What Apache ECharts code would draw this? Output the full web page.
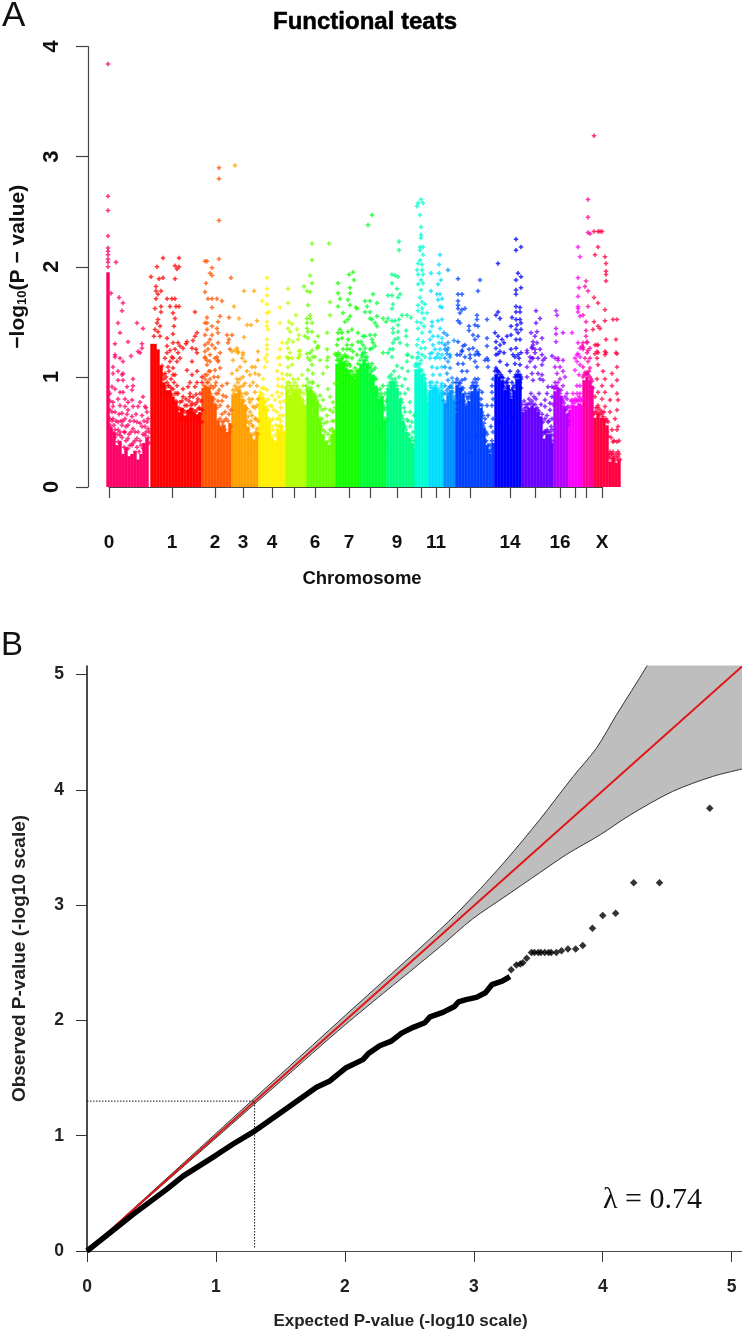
<!DOCTYPE html>
<html>
<head>
<meta charset="utf-8">
<title>Functional teats</title>
<style>
html, body { margin: 0; padding: 0; background: #fff; }
#main { width: 742px; height: 1331px; }
</style>
<script src="https://cdn.jsdelivr.net/npm/echarts@6/dist/echarts.min.js"></script>
</head>
<body>
<div id="main"></div>
<script>
// Panel A: axis ticks (positions along the genome, in plot units)
var chrTicks = [109, 172, 215, 243, 272, 294, 315, 349, 370, 397, 421, 436, 449, 470, 510, 535, 560, 575, 586, 602];
var chrTickLabels = ['0', '1', '2', '3', '4', '', '6', '7', '', '9', '', '11', '', '', '14', '', '16', '', '', 'X'];
var chrNames = ['0', '1', '2', '3', '4', '5', '6', '7', '8', '9', '10', '11', '12', '13', '14', '15', '16', '17', '18', 'X'];
var chrColors = ['#ff0066', '#ff0000', '#ff5500', '#ffa000', '#fff000', '#b4ff00', '#66ff00', '#14ff00', '#00ff33', '#00ff80',
    '#00ffd0', '#00ddff', '#0090ff', '#0040ff', '#0000ff', '#6600ff', '#b300ff', '#ff00ff', '#ff00a0', '#ff0040'];

// solid lower part of each chromosome: [position, height of the mass]
var core0 = [[108,1.95],[111,.55],[114,.5],[117,.38],[120,.42],[123,.3],[126,.36],[129,.28],[132,.3],[135,.33],[138,.25],[141,.3],[144,.4],[147,.45]];
var core1 = [[152,1.3],[155,1.3],[158,1.25],[161,1.1],[164,.95],[167,.88],[170,.88],[173,.82],[176,.78],[179,.68],[182,.72],[185,.65],[188,.7],[191,.72],[194,.68],[197,.66],[200,.68]];
var core2 = [[203,.9],[206,.92],[209,.9],[212,.82],[215,.75],[218,.6],[221,.55],[224,.56],[227,.5],[230,.58]];
var core3 = [[233,.84],[236,.85],[239,.88],[242,.8],[245,.75],[248,.55],[251,.48],[254,.42],[257,.5]];
var core4 = [[260,.84],[263,.82],[266,.74],[269,.6],[272,.45],[275,.4],[278,.52],[281,.56],[284,.5]];
var core5 = [[287,.88],[290,.84],[293,.86],[296,.88],[299,.84],[302,.78],[305,.74]];
var core6 = [[308,.88],[311,.88],[314,.84],[317,.78],[320,.6],[323,.48],[326,.42],[329,.38],[332,.48],[334,.52]];
var core7 = [[337,1.12],[340,1.13],[343,1.14],[346,1.08],[349,1.04],[352,1.0],[355,.98],[358,1.04]];
var core8 = [[361,1.12],[364,1.16],[367,1.12],[370,1.04],[373,1.02],[376,.92],[379,.8],[382,.82],[385,.6]];
var core9 = [[388,.9],[391,.96],[394,.96],[397,.9],[400,.8],[403,.6],[406,.5],[409,.45],[412,.4],[414,.36]];
var core10 = [[416,1.07],[419,1.07],[422,1.02],[425,.96],[427,.78]];
var core11 = [[430,.88],[433,.88],[436,.88],[439,.84],[442,.88]];
var core12 = [[445,.76],[448,.84],[451,.88],[454,.78]];
var core13 = [[457,.92],[460,.9],[463,.85],[466,.74],[469,.78],[472,.87],[475,.92],[478,.87],[481,.72],[484,.54],[487,.38],[490,.3],[493,.4]];
var core14 = [[496,1.02],[499,1.0],[502,.97],[505,.88],[508,.92],[511,.8],[514,.88],[517,.98],[520,.98]];
var core15 = [[523,.68],[526,.7],[529,.72],[532,.74],[535,.72],[538,.68],[541,.64],[544,.44],[547,.48],[550,.48],[552,.4]];
var core16 = [[555,.87],[558,.88],[561,.83],[564,.74],[567,.66]];
var core17 = [[570,.7],[573,.74],[576,.74],[579,.76],[581,.75]];
var core18 = [[584,.97],[587,1.0],[590,.97],[592,.92]];
var coreX = [[595,.63],[598,.67],[601,.63],[604,.62],[607,.56],[610,.23],[613,.27],[616,.22],[619,.25]];

// single markers above the mass: [position, -log10 P]
var chr0 = [[108,3.84],[108,2.64],[108,2.51],[108,2.28],[108,2.17],[108,2.14],[108,2.11],[108,2.07],[108,2.04],[108,2.0],[116,2.04],[111,1.76],[119,1.72],[123,1.67],[122,1.6],[118,1.49],[137,1.49],[143,1.44],[120,1.4],[128,1.32],[115,1.3],[142,1.3],[142,1.26],[138,1.23],[140,1.22],[131,1.19],[115,1.18],[115,1.2],[120,1.17],[123,1.14],[113,1.09],[113,1.03],[118,1.05],[122,1.02],[123,1.03],[118,.97],[123,.97],[133,.98],[127,.91],[133,.92],[132,.88],[112,.91],[115,.89],[110,.85],[120,.86],[123,.86],[118,.8],[125,.8],[132,.79],[128,.77],[143,.82],[140,.77],[145,.73],[138,.73],[113,.77],[113,.73],[120,.74],[125,.73],[133,.73],[115,.68],[122,.67],[128,.7],[142,.65],[147,.68],[113,.62],[125,.62],[132,.64],[137,.59],[118,.59],[147,.59],[110,.56],[122,.56],[128,.56],[142,.55],[115,.52],[125,.5],[133,.53],[148,.53],[138,.5],[120,.47],[145,.47],[128,.44],[137,.44],[132,.38],[118,.41]];
var chr1 = [[163,2.08],[179,2.08],[157,2.0],[175,2.01],[179,2.0],[177,1.98],[151,1.91],[163,1.9],[159,1.89],[175,1.89],[156,1.82],[156,1.78],[161,1.78],[158,1.75],[156,1.71],[167,1.71],[172,1.71],[175,1.71],[161,1.64],[155,1.62],[170,1.64],[176,1.64],[179,1.64],[161,1.59],[173,1.58],[195,1.59],[158,1.52],[175,1.53],[157,1.49],[160,1.46],[174,1.46],[155,1.43],[158,1.41],[173,1.39],[154,1.37],[160,1.37],[197,1.4],[195,1.37],[167,1.35],[193,1.33],[173,1.31],[178,1.31],[187,1.32],[186,1.3],[167,1.28],[180,1.28],[192,1.26],[183,1.26],[196,1.25],[170,1.24],[175,1.25],[167,1.22],[172,1.18],[178,1.22],[197,1.22],[180,1.17],[165,1.17],[173,1.17],[170,1.14],[177,1.14],[192,1.14],[168,1.09],[173,1.08],[187,1.06],[197,1.05],[192,1.02],[165,1.03],[173,1.02],[202,1.0],[190,.95],[197,.95],[202,.95],[188,.91],[195,.91],[168,.92],[173,.89],[183,.89],[190,.85],[200,.85],[183,.82],[190,.82],[177,.85],[180,.77],[185,.74],[192,.76],[197,.77],[200,.71],[178,.7],[188,.68],[195,.68],[198,.62],[202,.59]];
var chr2 = [[219,2.9],[219,2.8],[219,2.42],[219,2.07],[207,2.05],[205,2.05],[212,1.99],[210,1.94],[212,1.92],[231,1.9],[206,1.85],[205,1.77],[208,1.71],[212,1.71],[217,1.71],[222,1.69],[212,1.63],[207,1.54],[220,1.55],[229,1.54],[207,1.49],[205,1.49],[212,1.46],[218,1.5],[217,1.44],[207,1.43],[205,1.38],[212,1.38],[218,1.4],[210,1.34],[205,1.29],[208,1.31],[212,1.29],[218,1.31],[227,1.38],[232,1.38],[229,1.34],[228,1.31],[208,1.25],[205,1.23],[215,1.26],[220,1.22],[210,1.2],[217,1.18],[230,1.25],[205,1.18],[207,1.15],[218,1.15],[205,1.17],[210,1.14],[215,1.17],[207,1.11],[218,1.14],[210,1.05],[215,1.06],[220,1.08],[205,1.02],[210,.98],[218,1.0],[207,.95],[215,.92],[222,.92],[227,.94],[218,.85],[223,.83],[220,.74],[228,.73],[225,.68],[222,.59],[230,.5],[223,.56]];
var chr3 = [[235,2.92],[234,1.64],[244,1.78],[254,1.78],[239,1.53],[247,1.47],[251,1.47],[257,1.51],[244,1.36],[237,1.26],[232,1.23],[238,1.22],[243,1.22],[242,1.17],[235,1.24],[238,1.23],[243,1.2],[233,1.15],[245,1.14],[240,1.09],[237,1.06],[247,1.05],[252,1.09],[255,1.09],[258,1.23],[258,1.15],[232,1.03],[250,1.02],[255,1.03],[259,1.02],[237,.98],[245,.94],[253,.95],[250,.92],[257,.92],[240,.91],[255,.86],[247,.85],[250,.77],[253,.73],[247,.71],[257,.74],[250,.68],[255,.62],[252,.56],[257,.53],[250,.35]];
var chr4 = [[267,1.9],[267,1.8],[267,1.74],[262,1.69],[267,1.66],[267,1.58],[269,1.59],[280,1.63],[280,1.49],[267,1.5],[267,1.46],[268,1.43],[267,1.34],[267,1.29],[267,1.25],[267,1.2],[282,1.31],[280,1.25],[280,1.18],[265,1.17],[267,1.14],[265,1.09],[278,1.17],[280,1.11],[277,1.05],[282,1.03],[263,.98],[278,.98],[283,.98],[278,.92],[282,.91],[277,.86],[267,.88],[282,.85],[272,.83],[275,.79],[280,.77],[272,.73],[277,.68],[273,.62],[280,.65],[272,.55],[275,.47]];
var chr5 = [[288,1.8],[288,1.67],[296,1.56],[289,1.5],[292,1.48],[288,1.44],[290,1.41],[297,1.43],[299,1.38],[289,1.34],[287,1.31],[293,1.32],[288,1.26],[298,1.34],[290,1.22],[287,1.18],[299,1.23],[299,1.18],[289,1.17],[288,1.17],[292,1.17],[288,1.09],[292,1.11],[298,1.17],[300,1.24],[300,1.2],[287,1.02],[290,1.02],[293,.98],[298,.98],[302,1.02],[287,.95],[297,.92],[303,.92],[290,.92],[300,.88],[293,.88]];
var chr6 = [[312,2.21],[329,2.21],[312,2.06],[310,1.92],[312,1.85],[304,1.82],[307,1.78],[310,1.77],[308,1.65],[310,1.56],[307,1.53],[310,1.53],[307,1.49],[312,1.49],[307,1.44],[308,1.41],[312,1.41],[327,1.4],[305,1.37],[308,1.35],[318,1.37],[315,1.32],[317,1.26],[327,1.25],[310,1.22],[313,1.18],[318,1.28],[308,1.17],[330,1.68],[330,1.56],[307,1.21],[312,1.24],[318,1.27],[310,1.15],[315,1.18],[312,1.11],[320,1.15],[327,1.15],[335,1.21],[328,1.18],[308,1.06],[313,1.03],[327,1.09],[307,.98],[312,.95],[318,.92],[323,1.03],[328,.89],[335,.94],[330,.82],[320,.83],[323,.79],[317,.79],[333,.77],[325,.71],[320,.73],[330,.7],[322,.62],[333,.68],[327,.59],[320,.56],[332,.53],[323,.52],[328,.48]];
var chr7 = [[349,1.93],[353,1.95],[354,1.88],[338,1.85],[350,1.81],[350,1.76],[338,1.76],[340,1.71],[348,1.7],[338,1.64],[350,1.65],[357,1.62],[343,1.58],[356,1.63],[350,1.55],[348,1.52],[345,1.5],[340,1.43],[338,1.4],[342,1.4],[348,1.41],[352,1.43],[358,1.4],[338,1.34],[342,1.35],[348,1.34],[337,1.29],[347,1.29],[352,1.29],[358,1.32],[343,1.25],[347,1.25],[350,1.25],[338,1.22],[353,1.23],[336,1.2],[345,1.2],[357,1.2],[342,1.17],[348,1.18],[352,1.17],[340,1.13],[346,1.14],[350,1.1],[355,1.08],[358,1.05]];
var chr8 = [[372,2.47],[368,2.38],[373,1.75],[365,1.69],[370,1.69],[377,1.67],[367,1.64],[365,1.59],[370,1.59],[370,1.53],[377,1.55],[375,1.49],[372,1.52],[377,1.46],[363,1.37],[361,1.32],[365,1.37],[370,1.38],[375,1.38],[372,1.34],[373,1.31],[375,1.28],[363,1.29],[360,1.25],[365,1.26],[370,1.25],[365,1.22],[362,1.2],[372,1.26],[383,1.22],[383,1.53],[386,1.5],[370,1.09],[375,1.08],[380,.89],[383,.92],[385,.85],[378,.77],[382,.73],[377,.68],[383,.56],[380,.5],[385,.36]];
var chr9 = [[399,2.23],[399,2.15],[392,1.93],[395,1.92],[398,1.91],[392,1.85],[397,1.8],[388,1.74],[392,1.74],[400,1.75],[398,1.72],[393,1.66],[392,1.62],[388,1.53],[392,1.51],[395,1.51],[399,1.52],[402,1.56],[407,1.56],[411,1.54],[398,1.47],[393,1.44],[406,1.42],[398,1.41],[393,1.4],[406,1.37],[398,1.35],[395,1.34],[400,1.31],[393,1.31],[407,1.29],[390,1.25],[393,1.25],[388,1.22],[392,1.18],[407,1.2],[412,1.18],[408,1.2],[407,1.14],[402,1.08],[408,1.05],[405,.98],[408,.89],[402,.92],[405,.85],[410,.77],[402,.77],[405,.68],[410,.68],[407,.61],[412,.59],[403,.56],[408,.47],[413,.5],[407,.35]];
var chr10 = [[421,2.61],[418,2.58],[423,2.58],[417,2.55],[420,2.47],[421,2.36],[421,2.29],[421,2.26],[420,2.18],[423,2.18],[420,2.15],[423,2.11],[420,2.06],[418,2.03],[422,2.02],[417,1.97],[422,1.97],[418,1.93],[423,1.93],[421,1.88],[418,1.84],[423,1.85],[421,1.79],[420,1.72],[422,1.68],[418,1.65],[425,1.66],[422,1.62],[418,1.6],[422,1.58],[427,1.58],[424,1.53],[417,1.5],[421,1.49],[424,1.46],[418,1.44],[422,1.4],[418,1.34],[423,1.32],[417,1.29],[421,1.26],[425,1.26],[418,1.22],[422,1.2],[425,1.18],[417,1.17],[421,1.15],[418,1.18],[425,.98],[425,.89],[427,.8],[427,.73],[425,.65]];
var chr11 = [[440,2.11],[439,2.02],[431,1.94],[439,1.94],[441,1.88],[438,1.84],[431,1.78],[437,1.75],[440,1.75],[438,1.7],[442,1.71],[440,1.64],[442,1.63],[432,1.5],[432,1.46],[438,1.51],[442,1.52],[440,1.44],[430,1.41],[433,1.37],[430,1.34],[438,1.37],[442,1.35],[433,1.29],[439,1.31],[442,1.31],[435,1.25],[440,1.25],[432,1.22],[437,1.18],[442,1.2],[430,1.17],[430,1.21],[438,1.21],[435,1.17],[440,1.17],[432,1.09],[437,1.08],[442,1.09],[433,1.02],[440,1.02],[430,.95],[437,.95],[442,.94],[435,.89]];
var chr12 = [[448,1.97],[447,1.38],[444,1.4],[454,1.33],[448,1.31],[445,1.25],[448,1.26],[447,1.21],[450,1.18],[445,1.17],[445,1.29],[447,1.24],[450,1.2],[448,1.14],[445,1.09],[450,1.08],[447,1.03],[452,.99],[448,.97],[453,.95],[450,.91],[445,.92],[453,.86],[455,.79],[455,.73],[454,.62]];
var chr13 = [[458,1.89],[480,1.88],[478,1.78],[458,1.75],[462,1.75],[458,1.69],[458,1.65],[458,1.62],[462,1.61],[465,1.62],[460,1.58],[477,1.56],[487,1.52],[477,1.52],[458,1.51],[460,1.49],[475,1.47],[469,1.46],[478,1.46],[469,1.42],[473,1.38],[475,1.34],[478,1.37],[487,1.35],[463,1.28],[458,1.32],[462,1.23],[469,1.25],[473,1.26],[477,1.23],[487,1.28],[460,1.2],[465,1.18],[470,1.2],[475,1.2],[479,1.2],[487,1.17],[457,1.2],[462,1.24],[465,1.29],[458,1.12],[463,1.12],[478,1.21],[470,1.17],[475,1.14],[488,1.15],[485,1.15],[462,1.05],[467,1.05],[477,1.09],[488,1.09],[465,.98],[462,.97],[493,.98],[492,.92],[478,.98],[482,.86],[492,.86],[478,.8],[493,.8],[482,.74],[487,.74],[492,.74],[482,.68],[488,.65],[493,.62],[478,.62],[482,.47],[485,.41],[490,.32],[468,.47],[477,.47],[470,.32]];
var chr14 = [[516,2.25],[516,2.15],[521,2.18],[518,1.94],[521,1.91],[516,1.88],[521,1.81],[516,1.79],[516,1.75],[516,1.64],[520,1.63],[516,1.59],[520,1.59],[498,1.59],[496,1.56],[500,1.53],[498,2.03],[520,1.52],[521,1.49],[516,1.52],[512,1.54],[511,1.46],[517,1.47],[521,1.43],[516,1.43],[495,1.4],[498,1.37],[502,1.34],[507,1.37],[511,1.38],[518,1.4],[496,1.32],[500,1.29],[504,1.31],[516,1.34],[520,1.34],[496,1.26],[500,1.23],[511,1.25],[516,1.26],[504,1.22],[521,1.22],[496,1.2],[515,1.18],[519,1.17],[498,1.21],[513,1.2],[518,1.2],[500,1.14],[507,1.11],[515,1.12],[520,1.11],[497,1.06],[510,1.05],[503,.99],[518,1.02],[521,.98],[508,.92],[512,.95],[520,.95],[502,.92],[507,.85],[510,.79],[500,.59],[507,.62],[513,.62]];
var chr15 = [[536,1.6],[540,1.53],[536,1.49],[531,1.4],[537,1.41],[535,1.37],[542,1.35],[537,1.31],[533,1.29],[532,1.26],[540,1.25],[527,1.22],[535,1.22],[552,1.19],[530,1.18],[545,1.17],[532,1.17],[533,1.32],[532,1.27],[535,1.25],[527,1.24],[542,1.2],[538,1.17],[533,1.17],[530,1.14],[543,1.15],[527,1.09],[535,1.09],[542,1.11],[532,1.03],[538,1.03],[527,1.0],[542,1.02],[533,.97],[540,.98],[543,.97],[548,.91],[552,.91],[547,.85],[552,.82],[545,.79],[550,.76],[545,.73],[550,.7],[547,.65],[552,.62],[543,.59],[548,.59],[545,.5],[552,.47]];
var chr16 = [[556,1.6],[557,1.56],[556,1.44],[556,1.39],[563,1.4],[556,1.32],[558,1.17],[555,1.17],[558,1.15],[563,1.15],[555,1.09],[560,1.09],[563,1.05],[557,1.03],[560,.98],[565,1.0],[555,.95],[563,.92],[558,.89],[567,.85],[567,.8],[568,.73],[567,.65],[568,.56]];
var chr17 = [[578,2.18],[580,2.09],[578,1.9],[579,1.81],[578,1.73],[578,1.64],[578,1.59],[580,1.55],[572,1.4],[578,1.31],[580,1.26],[577,1.2],[580,1.18],[575,1.17],[578,1.62],[578,1.21],[577,1.14],[580,1.11],[575,1.06],[579,1.02],[577,.92],[580,.92],[573,.85],[580,.85],[572,.79],[577,.79],[580,.74]];
var chr18 = [[588,2.61],[588,2.45],[588,2.31],[590,2.3],[586,1.87],[585,1.82],[588,1.78],[588,1.64],[583,1.56],[586,1.5],[586,1.42],[586,1.37],[583,1.31],[587,1.31],[590,1.26],[583,1.25],[587,1.22],[590,1.17],[582,1.28],[587,1.32],[583,1.27],[588,1.24],[585,1.17],[588,1.14],[583,1.09],[590,1.08],[587,1.03]];
var chrX = [[594,3.19],[594,2.32],[598,2.32],[602,2.32],[600,2.32],[598,2.18],[595,2.11],[605,2.09],[606,2.03],[606,1.96],[606,1.93],[606,1.87],[594,1.72],[598,1.67],[605,1.61],[617,1.52],[613,1.52],[594,1.5],[605,1.51],[598,1.46],[593,1.43],[600,1.44],[606,1.34],[616,1.34],[595,1.29],[598,1.29],[597,1.23],[598,1.22],[606,1.22],[616,1.22],[605,1.2],[597,1.29],[595,1.21],[605,1.23],[597,1.17],[617,1.21],[598,1.11],[603,1.05],[612,1.03],[617,1.09],[597,.98],[605,.98],[617,.97],[602,.92],[612,.92],[598,.86],[605,.86],[617,.85],[595,.82],[602,.8],[610,.79],[618,.79],[598,.74],[605,.73],[610,.68],[617,.7],[603,.64],[608,.59],[615,.62],[612,.52],[618,.55],[607,.5],[613,.41],[617,.41],[610,.32],[618,.32],[613,.26]];

// ragged top edge of the mass, estimated from the stipple
var edge0 = [[110,.62],[110,.7],[110,.78],[112,.5],[112,.6],[112,.68],[114,.56],[115,.45],[116,.6],[117,.48],[118,.52],[119,.66],[120,.5],[121,.6],[122,.45],[123,.6],[124,.36],[124,.5],[126,.42],[126,.55],[127,.66],[128,.35],[129,.48],[130,.38],[130,.6],[131,.5],[133,.4],[134,.6],[135,.42],[135,.5],[136,.66],[137,.36],[139,.32],[140,.42],[140,.58],[141,.38],[143,.48],[143,.35],[144,.6],[145,.55],[146,.5],[146,.72],[148,.45],[148,.62],[149,.5],[149,.4]];
var edge1 = [[162,1.1],[163,1.02],[163,.92],[164,.98],[165,.9],[166,1.0],[166,.85],[167,.95],[168,.85],[169,1.05],[169,.92],[170,.85],[171,.98],[171,.9],[172,.83],[174,.95],[175,.85],[175,1.02],[176,.78],[177,.92],[178,.85],[179,.72],[180,.62],[181,.7],[182,.78],[183,.7],[184,.62],[185,.68],[186,.8],[186,.6],[187,.74],[188,.62],[189,.78],[190,.7],[191,.74],[192,.66],[193,.82],[193,.7],[194,.62],[195,.75],[196,.84],[196,.64],[197,.7],[198,.8],[199,.6],[199,.72],[200,.66],[201,.78],[202,.7]];
var edge2 = [[204,.92],[205,.98],[206,.9],[207,1.02],[208,.95],[209,.9],[209,1.05],[210,.85],[211,.92],[212,.82],[213,.9],[214,.8],[214,1.0],[215,.75],[216,.85],[216,.95],[217,.72],[218,.6],[218,.78],[219,.55],[219,.88],[220,.62],[221,.52],[222,.66],[222,.78],[223,.5],[224,.6],[225,.52],[226,.62],[226,.82],[227,.46],[228,.6],[229,.48],[229,.66],[231,.55],[231,.7]];
var edge3 = [[233,.88],[234,.85],[235,.92],[236,.88],[237,.9],[238,.95],[239,.88],[240,.98],[241,.85],[242,.82],[243,.92],[243,1.0],[244,.78],[245,.85],[246,.72],[247,.6],[248,.52],[248,.64],[249,.58],[249,.8],[251,.48],[251,.6],[252,.65],[252,.8],[253,.42],[253,.55],[254,.48],[255,.42],[255,.72],[256,.5],[256,.62],[258,.48],[258,.6],[258,.8]];
var edge4 = [[260,.86],[261,.84],[262,.9],[263,.84],[264,.76],[264,.9],[265,.72],[266,.78],[267,.62],[268,.7],[268,.8],[269,.62],[270,.5],[270,.74],[271,.46],[271,.6],[273,.42],[273,.52],[274,.7],[274,.4],[276,.4],[276,.56],[277,.52],[277,.62],[278,.55],[279,.62],[279,.82],[280,.56],[281,.6],[281,.72],[282,.55],[283,.65],[284,.5],[284,.78]];
var edge5 = [[286,.9],[287,.92],[288,.88],[289,.95],[290,.86],[291,.9],[292,.88],[293,.92],[294,.85],[295,.95],[296,.9],[297,.85],[298,.88],[299,.85],[300,.82],[301,.86],[302,.8],[303,.78],[304,.74],[304,.85]];
var edge6 = [[306,.92],[307,.88],[308,.9],[309,.95],[310,.88],[311,.9],[312,.85],[313,.8],[313,.95],[314,.85],[315,.78],[316,.82],[317,.7],[318,.6],[318,.75],[319,.6],[320,.62],[321,.45],[321,.55],[322,.7],[323,.45],[324,.4],[324,.58],[325,.5],[326,.4],[327,.38],[327,.65],[328,.35],[329,.42],[330,.36],[330,.52],[331,.45],[332,.6],[333,.5],[334,.6],[335,.5],[335,.72]];
var edge7 = [[337,1.15],[338,1.18],[339,1.15],[340,1.2],[341,1.15],[342,1.12],[343,1.18],[344,1.12],[345,1.1],[346,1.18],[347,1.1],[348,1.05],[349,1.12],[350,1.05],[351,1.0],[352,1.05],[353,1.02],[354,1.0],[355,1.02],[356,1.0],[357,1.05],[358,1.12],[359,1.06]];
var edge8 = [[360,1.15],[362,1.18],[363,1.22],[365,1.18],[366,1.15],[367,1.18],[368,1.12],[369,1.08],[371,1.05],[372,1.12],[373,1.06],[374,1.0],[375,.98],[376,.98],[377,.88],[378,.85],[379,.82],[380,.78],[381,.85],[382,.82],[383,.75],[384,.7],[385,.62],[385,.72],[386,.6],[386,.78]];
var edge9 = [[388,.92],[389,1.0],[390,.95],[391,1.02],[392,.98],[393,.95],[394,1.05],[395,.98],[396,.95],[397,1.1],[397,.92],[398,.85],[399,1.0],[400,.85],[401,.8],[402,.65],[403,.62],[404,.72],[404,.55],[405,.55],[406,.52],[407,.48],[408,.6],[409,.48],[410,.42],[410,.55],[411,.42],[412,.45],[413,.38],[414,.42],[414,.65]];
var edge10 = [[415,1.1],[416,1.12],[417,1.1],[418,1.12],[419,1.08],[420,1.12],[421,1.05],[422,1.06],[423,1.02],[424,1.02],[425,.98],[426,.88],[426,.8],[427,.85],[428,.72],[428,.82]];
var edge11 = [[430,.92],[431,.9],[432,.95],[433,.9],[434,.88],[435,.92],[436,.88],[437,.9],[438,.85],[439,.88],[440,.85],[441,.92],[442,.9],[443,.85]];
var edge12 = [[444,.78],[445,.85],[446,.75],[447,.88],[448,.85],[449,.9],[450,.85],[451,.92],[452,.9],[453,.78],[454,.82],[455,.68]];
var edge13 = [[456,.95],[457,.98],[458,.92],[459,.95],[460,.94],[461,.9],[462,.88],[463,.9],[464,.78],[465,.85],[466,.75],[467,.82],[468,.8],[469,.85],[470,.82],[471,.9],[472,.92],[473,.95],[474,.92],[475,.98],[476,.95],[477,.92],[479,.88],[480,.75],[481,.8],[483,.55],[483,.65],[484,.58],[485,.62],[486,.42],[486,.5],[487,.48],[488,.38],[489,.32],[490,.38],[491,.34],[491,.55],[492,.42],[493,.5]];
var edge14 = [[495,1.05],[496,1.08],[497,1.02],[498,1.05],[499,1.04],[500,1.0],[501,1.02],[502,1.0],[503,.92],[504,.95],[505,.9],[506,.95],[507,.95],[508,.98],[509,.88],[510,.85],[511,.82],[512,.88],[513,.9],[514,.92],[515,1.0],[516,1.02],[517,1.0],[518,1.05],[519,1.0],[520,1.02],[521,1.0],[521,.9]];
var edge15 = [[522,.75],[523,.7],[524,.78],[525,.72],[526,.75],[527,.72],[528,.75],[529,.8],[530,.76],[531,.85],[532,.78],[533,.75],[534,.82],[535,.75],[536,.8],[537,.72],[538,.7],[539,.85],[539,.68],[540,.62],[541,.75],[542,.66],[543,.48],[544,.5],[545,.5],[545,.62],[546,.5],[547,.52],[548,.5],[549,.6],[550,.5],[551,.55],[552,.42],[552,.52]];
var edge16 = [[553,.75],[554,.9],[555,.9],[556,.92],[557,.9],[558,.95],[559,.88],[560,.85],[561,.88],[562,.8],[563,.78],[564,.76],[565,.82],[565,.7],[566,.7],[567,.72],[568,.66],[569,.6]];
var edge17 = [[570,.72],[571,.78],[572,.74],[573,.78],[574,.76],[575,.8],[576,.78],[577,.85],[578,.78],[579,.82],[580,.8],[581,.78],[582,.8]];
var edge18 = [[583,1.0],[584,1.02],[585,1.04],[586,1.02],[587,1.04],[588,1.02],[589,1.05],[590,1.0],[591,.98],[592,.96],[593,.9]];
var edgeX = [[594,.66],[595,.68],[596,.72],[597,.68],[598,.72],[599,.66],[600,.7],[601,.66],[602,.68],[603,.62],[604,.68],[605,.6],[606,.62],[607,.6],[608,.46],[608,.3],[609,.28],[610,.26],[611,.3],[611,.45],[612,.3],[613,.32],[614,.28],[614,.42],[615,.24],[616,.3],[617,.26],[617,.52],[618,.28],[619,.3],[619,.42],[620,.25]];

// Panel B: confidence band, null line and observed quantiles
var bandUpper = [[0,0],[1,1.02],[1.5,1.53],[2,2.04],[2.74,2.79],[2.99,3.07],[3.25,3.39],[3.51,3.74],[3.77,4.115],[3.95,4.36],[4.106,4.65],[4.34,5.07],[5.08,6.5]];
var bandLower = [[0,0],[1,.98],[1.5,1.47],[2,1.96],[2.74,2.64],[2.99,2.88],[3.25,3.08],[3.51,3.28],[3.72,3.44],[3.98,3.61],[4.21,3.78],[4.54,3.985],[4.85,4.115],[5.08,4.18]];
var nullLine = [[0,0],[5.08,5.07]];
var refLineH = [[0,1.3],[1.3,1.3]];
var refLineV = [[1.3,.03],[1.3,1.3]];
var qqDense = [[0,0],[.36,.32],[.62,.537],[.745,.65],[1,.83],[1.13,.926],[1.3,1.04],[1.52,1.215],[1.78,1.42],[1.884,1.475],[2.01,1.59],[2.14,1.66],[2.18,1.71],[2.27,1.78],[2.36,1.82],[2.44,1.89],[2.53,1.94],[2.62,1.98],[2.66,2.03],[2.76,2.07],[2.85,2.12],[2.88,2.16],[2.94,2.18],[3.02,2.2],[3.09,2.24],[3.14,2.31],[3.22,2.34],[3.28,2.38]];
var qqTail = [[3.29,2.44],[3.33,2.48],[3.36,2.49],[3.38,2.5],[3.41,2.54],[3.447,2.589],[3.47,2.59],[3.5,2.59],[3.52,2.59],[3.55,2.59],[3.58,2.59],[3.6,2.59],[3.64,2.59],[3.68,2.605],[3.73,2.62],[3.79,2.62],[3.845,2.65],[3.92,2.8],[4.0,2.91],[4.1,2.93],[4.24,3.195],[4.44,3.195],[4.83,3.84]];

var coreLists = [core0, core1, core2, core3, core4, core5, core6, core7, core8, core9, core10, core11, core12, core13, core14, core15, core16, core17, core18, coreX];
var pointLists = [chr0, chr1, chr2, chr3, chr4, chr5, chr6, chr7, chr8, chr9, chr10, chr11, chr12, chr13, chr14, chr15, chr16, chr17, chr18, chrX];
var edgeLists = [edge0, edge1, edge2, edge3, edge4, edge5, edge6, edge7, edge8, edge9, edge10, edge11, edge12, edge13, edge14, edge15, edge16, edge17, edge18, edgeX];

var fontName = '"Liberation Sans", Arial, sans-serif';
var plusMark = 'path://M1,0 H2 V1 H3 V2 H2 V3 H1 V2 H0 V1 H1 Z';

var coreData = [];
coreLists.forEach(function (list, i) {
    list.forEach(function (d) {
        coreData.push({ value: d, itemStyle: { color: chrColors[i] } });
    });
});

var series = [{
    name: 'mass',
    type: 'bar',
    xAxisIndex: 0,
    yAxisIndex: 0,
    barWidth: 3.4,
    clip: false,
    silent: true,
    data: coreData
}];
pointLists.forEach(function (list, i) {
    series.push({
        name: 'chr ' + chrNames[i],
        type: 'scatter',
        xAxisIndex: 0,
        yAxisIndex: 0,
        symbol: plusMark,
        symbolSize: 4.5,
        clip: false,
        itemStyle: { color: chrColors[i] },
        data: list.concat(edgeLists[i])
    });
});

// band: grey under the upper curve, white under the lower one
series.push({
    name: 'upper', type: 'line', xAxisIndex: 1, yAxisIndex: 1, symbol: 'none', z: 2, smooth: 0.3,
    lineStyle: { color: '#333', width: 1 },
    areaStyle: { color: '#bebebe', opacity: 1 },
    data: bandUpper
});
series.push({
    name: 'lower', type: 'line', xAxisIndex: 1, yAxisIndex: 1, symbol: 'none', z: 3, smooth: 0.3,
    lineStyle: { color: '#333', width: 1 },
    areaStyle: { color: '#fff', opacity: 1 },
    data: bandLower
});
series.push({
    name: 'null', type: 'line', xAxisIndex: 1, yAxisIndex: 1, symbol: 'none', z: 4,
    lineStyle: { color: '#e01515', width: 2 },
    data: nullLine
});
[refLineH, refLineV].forEach(function (d) {
    series.push({
        type: 'line', xAxisIndex: 1, yAxisIndex: 1, symbol: 'none', z: 4,
        lineStyle: { color: '#111', width: 1, type: [1.5, 1.5] },
        data: d
    });
});
series.push({
    name: 'observed', type: 'line', xAxisIndex: 1, yAxisIndex: 1, symbol: 'none', z: 5,
    lineStyle: { color: '#000', width: 5.5 },
    data: qqDense
});
series.push({
    name: 'observed tail', type: 'scatter', xAxisIndex: 1, yAxisIndex: 1, z: 5,
    symbol: 'diamond', symbolSize: 7.5,
    itemStyle: { color: '#000' },
    data: qqTail
});

var myChart = echarts.init(document.getElementById('main'), null, { renderer: 'canvas' });
var option = {
    animation: false,
    backgroundColor: '#fff',
    textStyle: { fontFamily: fontName },
    title: [
        { text: 'A', left: -3, top: -6, textStyle: { fontFamily: fontName, fontSize: 35, fontWeight: 'normal', color: '#111' } },
        { text: 'Functional teats', left: 268, top: 5, textStyle: { fontFamily: fontName, fontSize: 24, fontWeight: 'bold', color: '#000', textBorderColor: '#000', textBorderWidth: 0.5 } },
        { text: 'B', left: -4, top: 624, textStyle: { fontFamily: fontName, fontSize: 33, fontWeight: 'normal', color: '#111' } },
        { text: 'λ = 0.74', left: 598, top: 1180, textStyle: { fontFamily: '"Liberation Serif", serif', fontSize: 30, fontWeight: 'normal', color: '#111' } }
    ],
    grid: [
        { left: 109, top: 46.5, width: 493, height: 440.5 },
        { left: 87, top: 666, width: 655, height: 586 }
    ],
    xAxis: [{
        gridIndex: 0,
        type: 'value',
        min: 109,
        max: 602,
        offset: 20,
        position: 'bottom',
        splitLine: { show: false },
        axisLine: { lineStyle: { color: '#444', width: 1.2 } },
        axisTick: { length: 11, customValues: chrTicks, lineStyle: { color: '#444', width: 1.2 } },
        axisLabel: {
            customValues: chrTicks,
            margin: 26,
            fontSize: 19,
            fontWeight: 'bold',
            color: '#111',
            formatter: function (v) { return chrTickLabels[chrTicks.indexOf(v)]; }
        },
        name: 'Chromosome',
        nameLocation: 'middle',
        nameGap: 62,
        nameTextStyle: { fontSize: 18.5, fontWeight: 'bold', color: '#111', padding: [0, 0, 0, 13] }
    }, {
        gridIndex: 1,
        type: 'value',
        min: 0,
        max: 5.08,
        interval: 1,
        splitLine: { show: false },
        axisLine: { onZero: false, lineStyle: { color: '#111', width: 1.5 } },
        axisTick: { length: 11, lineStyle: { color: '#333', width: 1 } },
        axisLabel: { margin: 27, fontSize: 17.5, fontWeight: 'bold', color: '#222' },
        name: 'Expected P-value (-log10 scale)',
        nameLocation: 'middle',
        nameGap: 62,
        nameTextStyle: { fontSize: 17, fontWeight: 'bold', color: '#222', padding: [0, 28, 0, 0] }
    }],
    yAxis: [{
        gridIndex: 0,
        type: 'value',
        min: 0,
        max: 4,
        interval: 1,
        offset: 21,
        splitLine: { show: false },
        axisLine: { show: true, lineStyle: { color: '#444', width: 1.2 } },
        axisTick: { show: true, length: 12, lineStyle: { color: '#444', width: 1.2 } },
        axisLabel: { rotate: 90, margin: 25, fontSize: 22, fontWeight: 'bold', color: '#111' },
        name: '\u2212log{sub|10}(P \u2212 value)',
        nameLocation: 'middle',
        nameRotate: 90,
        nameGap: 59,
        nameTextStyle: {
            fontSize: 21, fontWeight: 'bold', color: '#111',
            rich: { sub: { fontSize: 13, fontWeight: 'bold', color: '#111', padding: [7, 0, 0, 0] } }
        }
    }, {
        gridIndex: 1,
        type: 'value',
        min: 0,
        max: 5.074,
        interval: 1,
        splitLine: { show: false },
        axisLine: { show: true, onZero: false, lineStyle: { color: '#111', width: 1.5 } },
        axisTick: { show: true, length: 11, lineStyle: { color: '#333', width: 1 } },
        axisLabel: { margin: 23, fontSize: 17.5, fontWeight: 'bold', color: '#222' },
        name: 'Observed P-value (-log10 scale)',
        nameLocation: 'middle',
        nameRotate: 90,
        nameGap: 58,
        nameTextStyle: { fontSize: 19, fontWeight: 'bold', color: '#222' }
    }],
    series: series
};
myChart.setOption(option);
</script>
</body>
</html>
